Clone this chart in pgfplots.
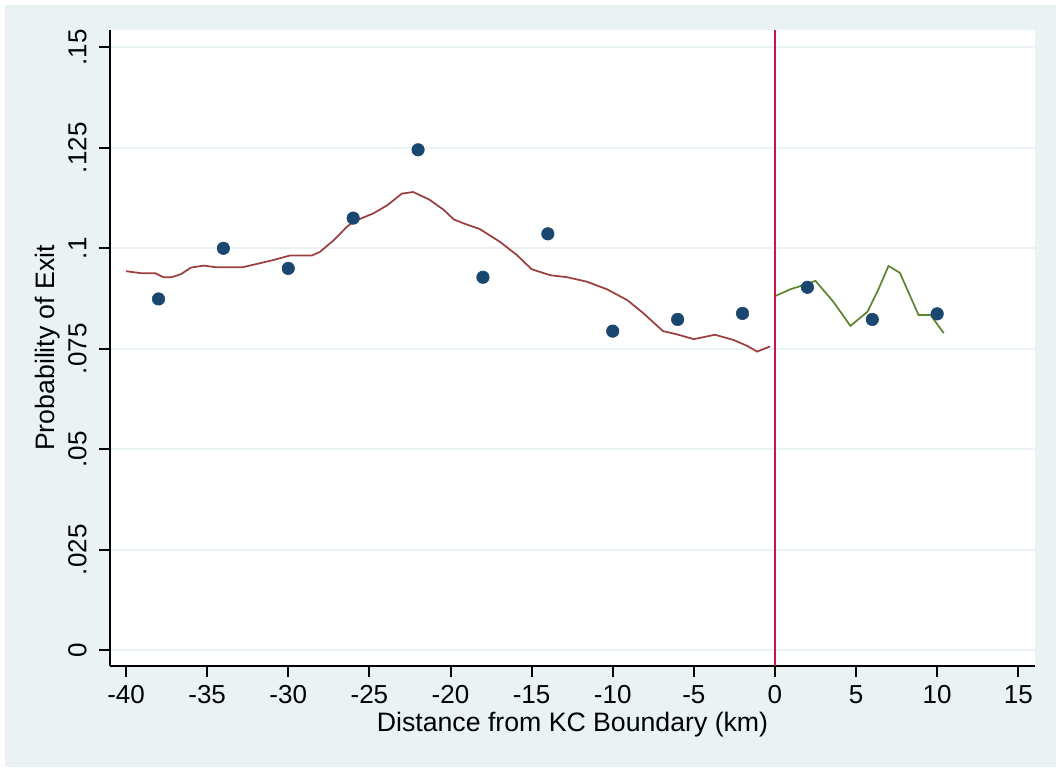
\documentclass[border=0pt]{standalone}
\usepackage{pgfplots}
\pgfplotsset{compat=1.18}
\usepackage{fontspec}
\setmainfont{Liberation Sans}
\usetikzlibrary{backgrounds,calc}
\definecolor{bgc}{HTML}{EAF2F3}
\definecolor{gridc}{HTML}{EAF2F3}
\definecolor{navy}{HTML}{1A476F}
\definecolor{maroonc}{HTML}{9A3F40}
\definecolor{forestc}{HTML}{5E8532}
\definecolor{crim}{HTML}{CC1447}
\begin{document}
\begin{tikzpicture}
\begin{axis}[
  name=ax,
  scale only axis,
  width=693.75pt, height=476.8pt,
  xmin=-40.99, xmax=16.03,
  ymin=-0.00383, ymax=0.1543,
  axis lines*=left,
  axis line style={-, line width=1.5pt, black},
  axis background/.style={fill=white},
  tick align=outside,
  major tick length=8.25pt,
  every tick/.style={black, line width=1.5pt},
  xtick={-40,-35,-30,-25,-20,-15,-10,-5,0,5,10,15},
  xticklabels={-40,-35,-30,-25,-20,-15,-10,-5,0,5,10,15},
  ytick={0,0.025,0.05,0.075,0.1,0.125,0.15},
  yticklabels={0,.025,.05,.075,.1,.125,.15},
  ymajorgrids,
  grid style={gridc, line width=1.3pt},
  tick label style={font=\fontsize{19.5}{23}\selectfont, black},
  yticklabel style={xshift=-9.5pt, rotate=90, anchor=base, inner sep=0pt},
  xticklabel style={anchor=north, inner sep=0pt, yshift=-6.5pt},
  xlabel={Distance from KC Boundary (km)},
  ylabel={Probability of Exit},
  label style={font=\fontsize{20}{24}\selectfont, black, inner sep=0pt},
  xlabel style={at={(axis description cs:0.5,-0.1038)}, anchor=base},
  ylabel style={at={(axis description cs:-0.0605,0.5)}, anchor=base},
  clip=false,
]
\addplot[only marks, mark=*, mark size=4.7pt, mark options={fill=navy, draw=navy}] coordinates {
(-38,0.0874) (-34,0.1000) (-30,0.0950) (-26,0.1075) (-22,0.1245) (-18,0.0928)
(-14,0.1036) (-10,0.0794) (-6,0.0823) (-2,0.0838) (2,0.0903) (6,0.0823) (10,0.0837)
};
\addplot[maroonc, line width=1.3pt] coordinates {
(-40,0.0943) (-39.05,0.0938) (-38.2,0.0938) (-37.7,0.0928) (-37.2,0.0928) (-36.6,0.0936)
(-36.0,0.0952) (-35.2,0.0957) (-34.5,0.0953) (-32.8,0.0953) (-31.95,0.0961) (-30.9,0.0971)
(-29.9,0.0982) (-28.55,0.0982) (-28.05,0.0991) (-27.2,0.1020) (-26.4,0.1053) (-26.0,0.1066)
(-24.75,0.1087) (-23.9,0.1107) (-23.0,0.1136) (-22.3,0.1140) (-21.3,0.1121) (-20.4,0.1095)
(-19.8,0.1072) (-19.2,0.1062) (-18.2,0.1048) (-16.95,0.1016) (-15.9,0.0983) (-15.0,0.0948)
(-13.85,0.0933) (-12.8,0.0928) (-11.6,0.0917) (-10.35,0.0898) (-9.1,0.0871) (-8.1,0.0838)
(-6.9,0.0794) (-6.05,0.0786) (-5.0,0.0774) (-3.7,0.0785) (-2.55,0.0772) (-1.7,0.0757)
(-1.1,0.0743) (-0.3,0.0756)
};
\addplot[forestc, line width=1.3pt] coordinates {
(0,0.0881) (0.95,0.0898) (1.8,0.0909) (2.5,0.0919) (3.6,0.0867) (4.65,0.0807) (5.7,0.0842)
(6.4,0.0900) (7.0,0.0956) (7.7,0.0939) (8.85,0.0834) (9.6,0.0834) (10.4,0.0789)
};
\addplot[crim, line width=1.4pt] coordinates {(0,-0.00383) (0,0.1543)};
\end{axis}
\begin{scope}[on background layer]
\fill[bgc] ($(ax.south west)+(-78.75pt,-76pt)$) rectangle ($(ax.north east)+(15.75pt,18.75pt)$);
\end{scope}
\pgfresetboundingbox
\path[use as bounding box] ($(ax.south west)+(-82.5pt,-76pt)$) rectangle ($(ax.north east)+(15.75pt,22.5pt)$);
\end{tikzpicture}
\end{document}
